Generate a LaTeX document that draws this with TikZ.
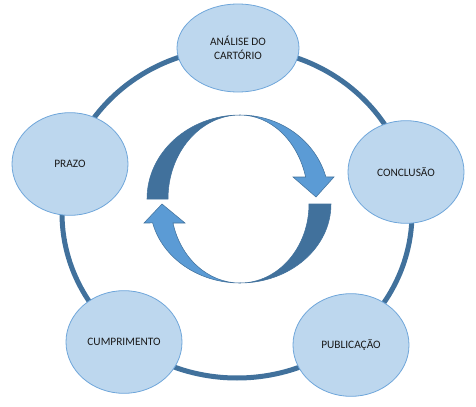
\documentclass[tikz,border=0pt]{standalone}
\usepackage{fontspec}
\setmainfont{Carlito}
\usepackage{tikz}
\usetikzlibrary{shapes.geometric}

\definecolor{ringblue}{HTML}{41719C}
\definecolor{lightblue}{HTML}{5B9BD5}
\definecolor{nodefill}{HTML}{BDD7EE}
\definecolor{nodeline}{HTML}{6FA6DA}
\definecolor{textgray}{HTML}{1A1A1A}

\begin{document}
\begin{tikzpicture}[
  x=0.75pt, y=-0.75pt,
  font=\fontsize{8.5}{10.5}\selectfont,
  stage/.style     = {ellipse, draw=nodeline, line width=0.6pt, fill=nodefill,
                      text=textgray, align=center, inner sep=0pt,
                      minimum width=87pt, minimum height=77pt},
  ring/.style      = {draw=ringblue, line width=3.75pt},
  darkband/.style  = {fill=ringblue, draw=ringblue, line width=0.4pt},
  lightband/.style = {fill=lightblue, draw=ringblue, line width=0.4pt}
]
\useasboundingbox (0,0) rectangle (476,407);
%% Outer cycle
\coordinate (hub) at (237,213);
\draw[ring] (hub) ellipse[x radius=175, y radius=165];
%% Stages
\node[stage, minimum width=91.5pt, minimum height=66pt] (ana) at (238,48)
  {ANÁLISE DO\\CARTÓRIO};
\node[stage] (con) at (406,172) {CONCLUSÃO};
\node[stage] (pub) at (351,345) {PUBLICAÇÃO};
\node[stage] (cum) at (124,342) {CUMPRIMENTO};
\node[stage] (pra) at (70,164)  {PRAZO};
%% Central arrows, upper half
\filldraw[darkband] (147,199)
  arc[start angle=180, end angle=270, x radius=93, y radius=84]
  arc[start angle=270, end angle=180, x radius=72, y radius=84] -- cycle;
\filldraw[lightband] (240,115)
  arc[start angle=270, end angle=344.8, x radius=89, y radius=84]
  -- (334,177) -- (316,197) -- (293,177) -- (305.6,177)
  arc[start angle=344.8, end angle=270, x radius=68, y radius=84] -- cycle;
%% Central arrows, lower half
\filldraw[darkband] (331,204)
  arc[start angle=0, end angle=90, x radius=91, y radius=79]
  arc[start angle=90, end angle=0, x radius=69, y radius=79] -- cycle;
\filldraw[lightband] (240,283)
  arc[start angle=90, end angle=166.1, x radius=90, y radius=79]
  -- (144,223) -- (162,204) -- (185,223) -- (173,223)
  arc[start angle=166.1, end angle=90, x radius=69, y radius=79] -- cycle;
\end{tikzpicture}
\end{document}
